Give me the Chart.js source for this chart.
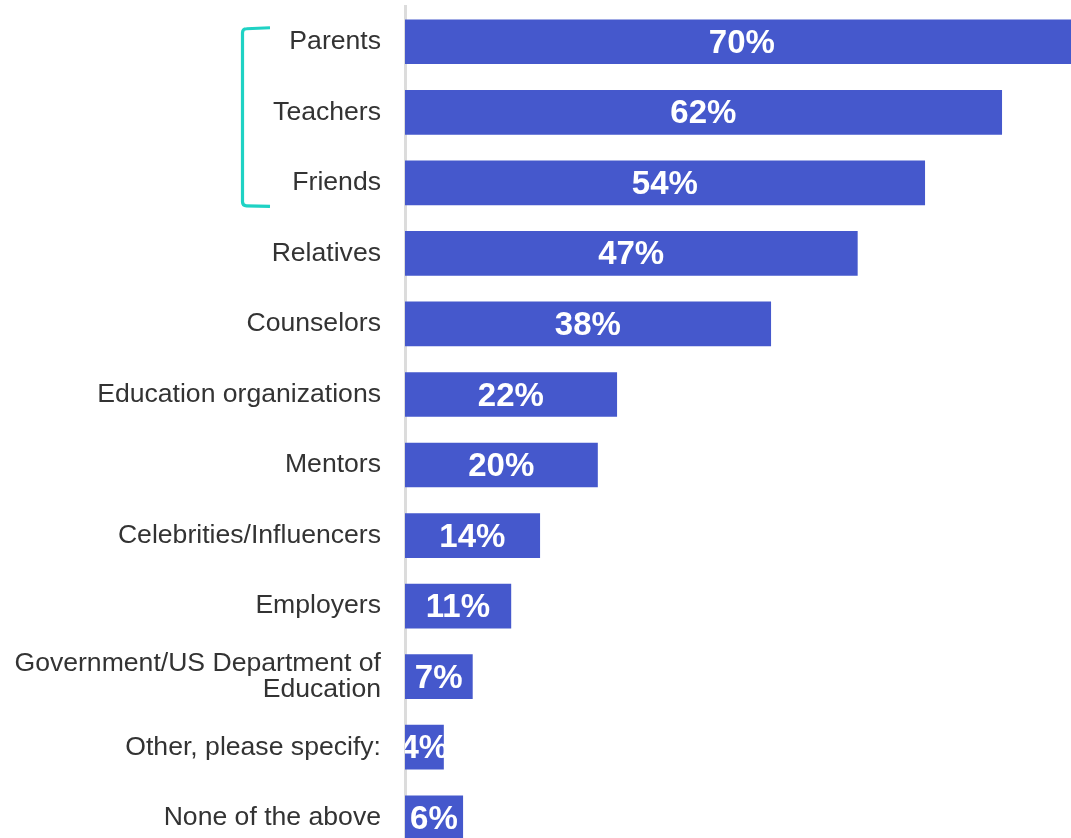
<!DOCTYPE html>
<html>
<head>
<meta charset="utf-8">
<script src="https://cdn.jsdelivr.net/npm/chart.js@4"></script>
<style>
html,body{margin:0;padding:0;background:#fff;overflow:hidden;}
#wrap{width:1071px;height:838px;overflow:hidden;position:relative;}
</style>
</head>
<body>
<div id="wrap"><canvas id="c" width="1071" height="853"></canvas></div>
<script>
const categories = [
  "Parents", "Teachers", "Friends", "Relatives", "Counselors",
  "Education organizations", "Mentors", "Celebrities/Influencers",
  "Employers", ["Government/US Department of", "Education"],
  "Other, please specify:", "None of the above"
];
const values = [70, 62, 54, 47, 38, 22, 20, 14, 11, 7, 4, 6];
const valueLabels = ["70%", "62%", "54%", "47%", "38%", "22%", "20%", "14%", "11%", "7%", "4%", "6%"];
const bracketed = [0, 2]; // first and last category under the teal bracket

const FONT = '"Liberation Sans", Arial, sans-serif';

const barLabels = {
  id: 'barLabels',
  afterDatasetsDraw(chart) {
    const ctx = chart.ctx, a = chart.chartArea;
    const meta = chart.getDatasetMeta(0);
    ctx.save();
    ctx.beginPath();
    ctx.rect(a.left, a.top, a.right - a.left, a.bottom - a.top);
    ctx.clip();
    ctx.fillStyle = '#ffffff';
    ctx.font = 'bold 33px ' + FONT;
    ctx.textAlign = 'center';
    ctx.textBaseline = 'middle';
    meta.data.forEach((el, i) => {
      const p = el.getProps(['x', 'y', 'base'], true);
      ctx.fillText(valueLabels[i], (p.x + p.base) / 2, p.y + 2);
    });
    ctx.restore();
  }
};

const bracket = {
  id: 'bracket',
  afterDraw(chart) {
    const ctx = chart.ctx, y = chart.scales.y;
    const top = y.getPixelForValue(bracketed[0]) - 13.5;
    const bot = y.getPixelForValue(bracketed[1]) + 23;
    const xl = 242.5, xr = 270, r = 4;
    ctx.save();
    ctx.strokeStyle = '#1fd2c4';
    ctx.lineWidth = 3.2;
    ctx.lineCap = 'butt';
    ctx.lineJoin = 'round';
    ctx.beginPath();
    ctx.moveTo(xr, top - 0.5);
    ctx.lineTo(xl + r, top + 0.5);
    ctx.quadraticCurveTo(xl, top + 0.5, xl, top + 0.5 + r);
    ctx.lineTo(xl, bot - r);
    ctx.quadraticCurveTo(xl, bot, xl + r, bot);
    ctx.lineTo(xr, bot + 0.5);
    ctx.stroke();
    ctx.restore();
  }
};

new Chart(document.getElementById('c'), {
  type: 'bar',
  data: {
    labels: categories,
    datasets: [{
      data: values,
      backgroundColor: '#4558cc',
      borderWidth: 0,
      barThickness: 44
    }]
  },
  options: {
    indexAxis: 'y',
    responsive: false,
    animation: false,
    devicePixelRatio: 1,
    layout: { padding: { top: 6.5, right: 0, bottom: 0, left: 0 } },
    plugins: { legend: { display: false }, tooltip: { enabled: false } },
    scales: {
      x: { display: false, min: 0, max: 69.2 },
      y: {
        afterFit(scale) { scale.width = 405; scale.paddingTop = 0; scale.paddingBottom = 0; },
        grid: { display: false, drawTicks: false },
        border: { display: true, color: '#dcdcdc', width: 3 },
        ticks: {
          padding: 24,
          color: '#333333',
          font: { family: FONT, size: 26.6, lineHeight: 1.0 }
        }
      }
    }
  },
  plugins: [barLabels, bracket]
});
</script>
</body>
</html>
